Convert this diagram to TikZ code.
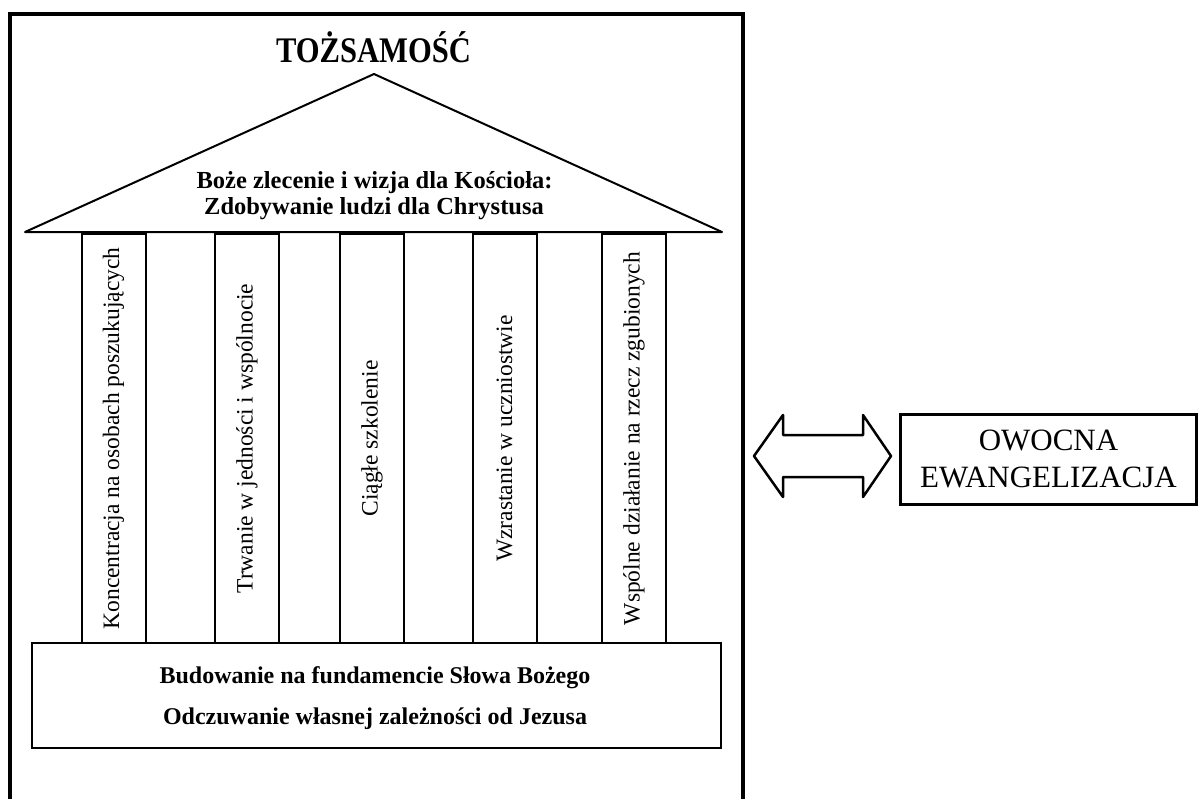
\documentclass[tikz,border=0pt]{standalone}
\usepackage{fontspec}
\setmainfont{Liberation Serif}
\newfontfamily\titlefont[FakeStretch=0.85]{Liberation Serif}
\usetikzlibrary{positioning}

\begin{document}
\begin{tikzpicture}[x=1pt, y=-1pt,
    % Text styles
    title/.style={font=\titlefont\fontsize{36}{36}\selectfont\bfseries, inner sep=0pt, anchor=base},
    roof/.style={font=\fontsize{24.5}{24.5}\selectfont\bfseries, inner sep=0pt, anchor=base},
    ground/.style={font=\fontsize{24}{24}\selectfont\bfseries, inner sep=0pt, anchor=base},
    % Shape styles
    pillar/.style={draw, line width=2pt, rotate=90, minimum width=409pt, minimum height=64pt,
                   inner sep=0pt, font=\fontsize{23.5}{23.5}\selectfont},
    plinth/.style={draw, line width=2pt, minimum width=689pt, minimum height=105pt, inner sep=0pt},
    result/.style={draw, line width=3pt, minimum width=296pt, minimum height=90pt,
                   align=center, inner sep=0pt, font=\fontsize{31}{37}\selectfont},
    frame/.style={line width=3.5pt},
    outline/.style={line width=2pt, line join=round},
    link/.style={line width=2.5pt, line join=round}
]
\useasboundingbox (0,0) rectangle (1198,798);

% Frame (open at the bottom)
\draw[frame] (10,802) -- (10,14) -- (743,14) -- (743,802);

% Title
\node[title] (title) at (373.5,62) {TOŻSAMOŚĆ};

% Roof
\coordinate (roofL) at (25,232);
\coordinate (roofT) at (374,74);
\coordinate (roofR) at (722,232);
\draw[outline] (roofL) -- (roofT) -- (roofR) -- cycle;
\node[roof] (roof1) at (374.5,188) {Boże zlecenie i wizja dla Kościoła:};
\node[roof] (roof2) at (374,214) {Zdobywanie ludzi dla Chrystusa};

% Pillars
\node[pillar] (col1) at (113.5,438.5) {Koncentracja na osobach poszukujących};
\node[pillar] (col2) at (247,438.5) {Trwanie w jedności i wspólnocie};
\node[pillar] (col3) at (372,438.5) {Ciągłe szkolenie};
\node[pillar] (col4) at (504.5,438.5) {Wzrastanie w uczniostwie};
\node[pillar] (col5) at (634,438.5) {Wspólne działanie na rzecz zgubionych};

% Foundation
\node[plinth] (base) at (376.5,695.5) {};
\node[ground] (base1) at (375,683) {Budowanie na fundamencie Słowa Bożego};
\node[ground] (base2) at (375,724) {Odczuwanie własnej zależności od Jezusa};

% Double arrow
\draw[link] (754,456) -- (783,415) -- (783,435) -- (863,435) -- (863,415) -- (891,456)
    -- (863,497) -- (863,477) -- (783,477) -- (783,497) -- cycle;

% Result
\node[result] (fruit) at (1048.5,459) {OWOCNA\\EWANGELIZACJA};

\end{tikzpicture}
\end{document}
